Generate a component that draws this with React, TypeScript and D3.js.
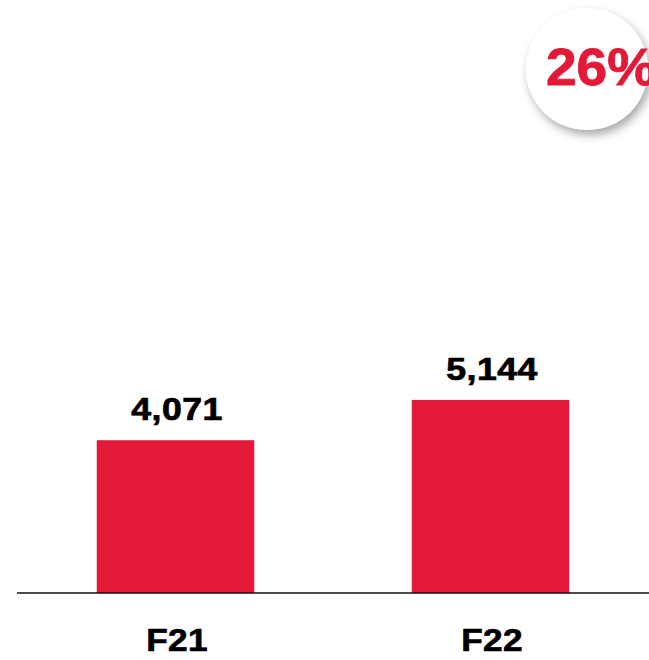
import { useEffect, useRef } from "react";
import * as d3 from "d3";

// chart data
const categories = ["F21", "F22"];
const values = [4071, 5144];
const growthLabel = "26%";

const RED = "#e31937";
const FONT = "'Liberation Sans', Arial, sans-serif";

const App = () => {
  const svgRef = useRef<SVGSVGElement | null>(null);

  useEffect(() => {
    const width = 649;
    const height = 660;
    const baseY = 593;

    const svg = d3.select(svgRef.current);
    svg.selectAll("*").remove();
    svg.attr("width", width).attr("height", height);

    // drop shadow for the growth bubble
    const defs = svg.append("defs");
    const filter = defs
      .append("filter")
      .attr("id", "bubbleShadow")
      .attr("x", "-30%")
      .attr("y", "-30%")
      .attr("width", "160%")
      .attr("height", "160%");
    filter
      .append("feDropShadow")
      .attr("dx", 3)
      .attr("dy", 5)
      .attr("stdDeviation", 5)
      .attr("flood-color", "#000")
      .attr("flood-opacity", 0.35);

    // scales
    const x = d3
      .scaleBand()
      .domain(categories)
      .range([18, 648])
      .paddingInner(0.5)
      .paddingOuter(0.25);

    const y = d3.scaleLinear().domain([0, 15000]).range([baseY, 30]);

    const data = categories.map((c, i) => ({ cat: c, value: values[i] }));
    const cx = (d: { cat: string }) => x(d.cat)! + x.bandwidth() / 2 + 1.5;

    // bars
    svg
      .selectAll("rect.bar")
      .data(data)
      .enter()
      .append("rect")
      .attr("class", "bar")
      .attr("x", (d) => x(d.cat)!)
      .attr("y", (d) => y(d.value))
      .attr("width", x.bandwidth())
      .attr("height", (d) => baseY - y(d.value))
      .attr("fill", RED);

    // baseline
    svg
      .append("line")
      .attr("x1", 17)
      .attr("x2", width)
      .attr("y1", baseY)
      .attr("y2", baseY)
      .attr("stroke", "#111")
      .attr("stroke-width", 1.5);

    // value labels (the source type is wide and heavy, so stretch + stroke)
    svg
      .selectAll("text.value")
      .data(data)
      .enter()
      .append("text")
      .attr("class", "value")
      .attr(
        "transform",
        (d) => `translate(${cx(d)},${y(d.value) - 20}) scale(1.17,1)`
      )
      .attr("text-anchor", "middle")
      .attr("font-family", FONT)
      .attr("font-weight", "bold")
      .attr("font-size", 30.5)
      .attr("letter-spacing", 0.4)
      .attr("fill", "#000")
      .attr("stroke", "#000")
      .attr("stroke-width", 0.7)
      .text((d) => d3.format(",")(d.value));

    // category labels
    svg
      .selectAll("text.cat")
      .data(data)
      .enter()
      .append("text")
      .attr("class", "cat")
      .attr("transform", (d) => `translate(${cx(d)},${baseY + 58}) scale(1.1,1)`)
      .attr("text-anchor", "middle")
      .attr("font-family", FONT)
      .attr("font-weight", "bold")
      .attr("font-size", 32)
      .attr("letter-spacing", 0.3)
      .attr("fill", "#000")
      .attr("stroke", "#000")
      .attr("stroke-width", 0.7)
      .text((d) => d.cat);

    // growth bubble
    svg
      .append("circle")
      .attr("cx", 587)
      .attr("cy", 69)
      .attr("r", 61)
      .attr("fill", "#fff")
      .attr("filter", "url(#bubbleShadow)");

    svg
      .append("text")
      .attr("transform", "translate(546,85) scale(1.08,1)")
      .attr("font-family", FONT)
      .attr("font-weight", "bold")
      .attr("font-size", 51)
      .attr("fill", RED)
      .attr("stroke", RED)
      .attr("stroke-width", 0.8)
      .text(growthLabel);
  }, []);

  return (
    <svg
      ref={svgRef}
      style={{ position: "absolute", left: 0, top: 0, display: "block" }}
    ></svg>
  );
};

export default App;
